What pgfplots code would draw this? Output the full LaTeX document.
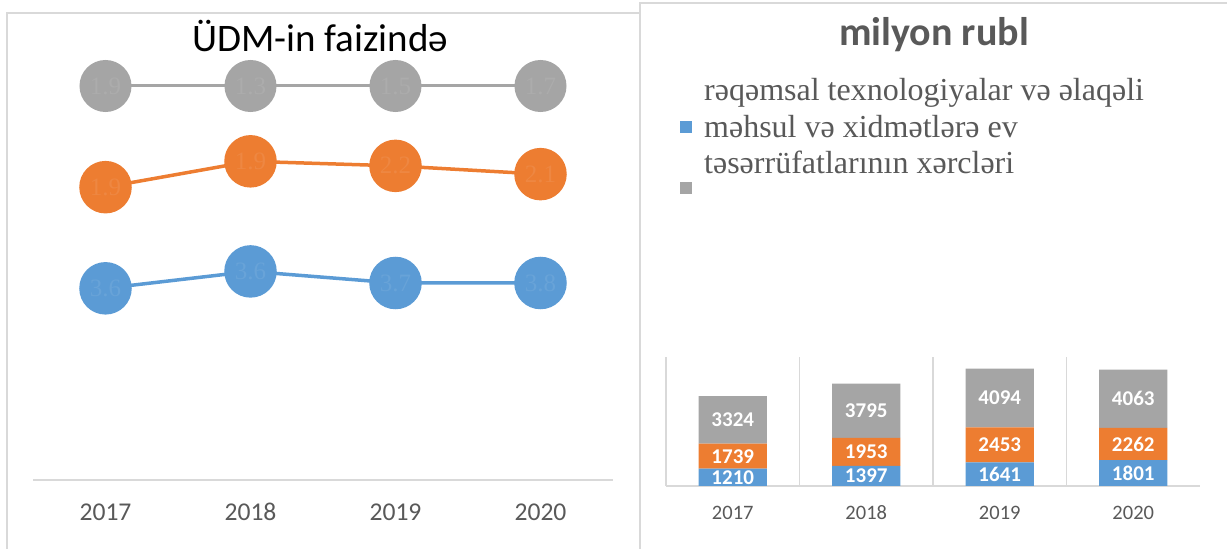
\documentclass[border=0pt]{standalone}
\usepackage{pgfplots}
\pgfplotsset{compat=1.18}
\usepackage{fontspec}
\setmainfont{Carlito}
\newfontfamily\serif{Liberation Serif}
\definecolor{cblue}{HTML}{5B9BD5}
\definecolor{corange}{HTML}{ED7D31}
\definecolor{cgray}{HTML}{A5A5A5}
\definecolor{txt}{HTML}{595959}
\definecolor{frame}{HTML}{D9D9D9}
\begin{document}
\begin{tikzpicture}
\useasboundingbox (0pt,0pt) rectangle (1227pt,549pt);
\draw[frame, line width=1.2pt] (7pt,-5pt) -- (7pt,536pt) -- (641pt,536pt);
\draw[frame, line width=1.2pt] (640pt,-5pt) -- (640pt,546pt) -- (1232pt,546pt);
% ---------------- left chart (100% stacked lines) ----------------
\begin{axis}[at={(33pt,69pt)}, anchor=south west, scale only axis,
  width=580pt, height=433.4pt, xmin=-0.5, xmax=3.5, ymin=0, ymax=110,
  clip=false, axis x line*=bottom, axis y line=none,
  x axis line style={frame, line width=1.5pt, -},
  xtick={0,1,2,3}, xticklabels={2017,2018,2019,2020},
  xtick style={draw=none},
  xticklabel style={font=\fontsize{25.6}{30}\selectfont, text=txt, anchor=base, yshift=-41pt},
  title={ÜDM-in faizində},
  title style={at={(0.495,1.010)}, anchor=center, font=\fontsize{39}{46}\selectfont, text=black},
  nodes near coords, point meta=explicit symbolic,
  every node near coord/.append style={anchor=center, font=\serif\fontsize{25}{30}\selectfont},
]
\addplot[cblue, line width=3.5pt, mark=*, mark size=24.5pt, mark options={fill=cblue, draw=none},
  nodes near coords style={text=cblue!92!white}]
  coordinates {(0,48.65)[3.6] (1,52.94)[3.6] (2,50.00)[3.7] (3,50.00)[3.8]};
\addplot[corange, line width=3.5pt, mark=*, mark size=24.5pt, mark options={fill=corange, draw=none},
  nodes near coords style={text=corange!92!white}]
  coordinates {(0,74.32)[1.9] (1,80.88)[1.9] (2,79.73)[2.2] (3,77.63)[2.1]};
\addplot[cgray, line width=3pt, mark=*, mark size=24.5pt, mark options={fill=cgray, draw=none},
  nodes near coords style={text=cgray!92!white}]
  coordinates {(0,100)[1.9] (1,100)[1.3] (2,100)[1.5] (3,100)[1.7]};
\end{axis}
% ---------------- right chart (stacked bars) ----------------
\begin{axis}[at={(666pt,63pt)}, anchor=south west, scale only axis,
  width=534pt, height=129pt, xmin=-0.5, xmax=3.5, ymin=0, ymax=9000,
  ybar stacked, bar width=0.51, clip=false,
  axis x line*=bottom, axis y line=none,
  x axis line style={frame, line width=1.5pt, -},
  xtick={0,1,2,3}, xticklabels={2017,2018,2019,2020},
  xtick style={draw=none},
  xticklabel style={font=\fontsize{20.5}{24}\selectfont, text=txt, anchor=base, yshift=-33.5pt},
  extra x ticks={-0.5,0.5,1.5,2.5}, extra x tick labels={},
  extra x tick style={grid=major, major grid style={frame, line width=1.2pt}},
  title={milyon rubl},
  title style={at={(0.502,3.453)}, anchor=center, font=\bfseries\fontsize{40}{48}\selectfont, text=txt},
  legend image code/.code={\fill[#1,draw=none,/tikz/.cd] (0pt,0pt) rectangle (12pt,12pt);},
  legend style={at={(0.0262,3.160)}, anchor=north west, draw=none, fill=none,
    inner sep=0pt, nodes={inner sep=0pt}, row sep=48pt, column sep=12pt,
    font=\serif\fontsize{32}{36.5}\selectfont, text=txt, cells={anchor=base west}},
]
\addplot[fill=cblue, draw=none] coordinates {(0,1210) (1,1397) (2,1641) (3,1801)};
\addlegendentry{\parbox[c]{480pt}{\baselineskip=36.5pt rəqəmsal texnologiyalar və əlaqəli\\məhsul və xidmətlərə ev\\təsərrüfatlarının xərcləri}}
\addplot[fill=corange, draw=none, forget plot] coordinates {(0,1739) (1,1953) (2,2453) (3,2262)};
\addplot[fill=cgray, draw=none] coordinates {(0,3324) (1,3795) (2,4094) (3,4063)};
\addlegendentry{}
\end{axis}
% labels centred in the bar segments
\begin{axis}[at={(666pt,63pt)}, anchor=south west, scale only axis,
  width=534pt, height=129pt, xmin=-0.5, xmax=3.5, ymin=0, ymax=9000,
  hide axis, clip=false]
\addplot[draw=none, mark=none, nodes near coords, point meta=explicit symbolic,
  every node near coord/.append style={anchor=center, text=white, font=\bfseries\fontsize{21}{25}\selectfont}]
  coordinates {(0,605)[1210] (1,698.5)[1397] (2,820.5)[1641] (3,900.5)[1801]
               (0,2079.5)[1739] (1,2373.5)[1953] (2,2867.5)[2453] (3,2932)[2262]
               (0,4611)[3324] (1,5247.5)[3795] (2,6141)[4094] (3,6094.5)[4063]};
\end{axis}
\end{tikzpicture}
\end{document}
